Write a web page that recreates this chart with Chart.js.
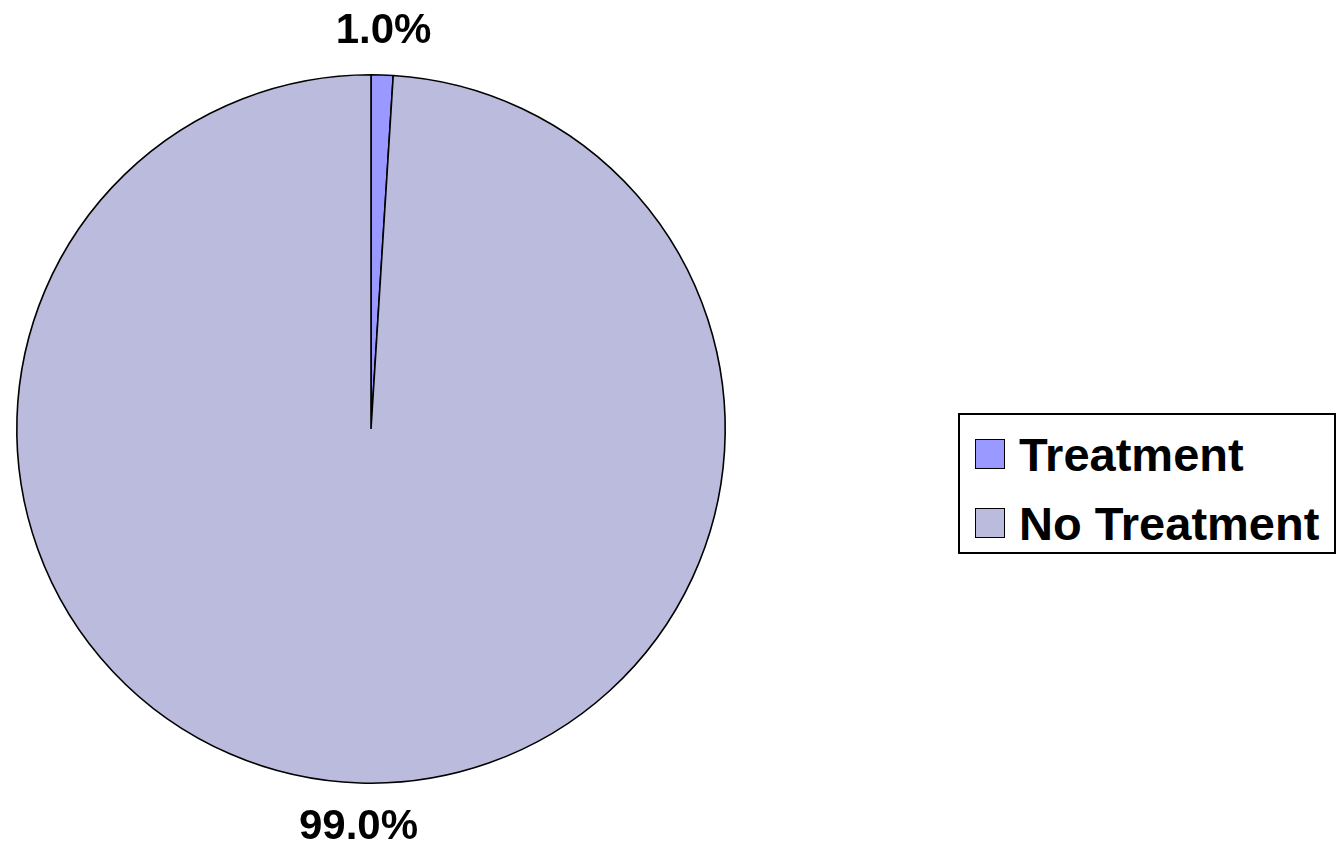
<!DOCTYPE html>
<html>
<head>
<meta charset="utf-8">
<script src="https://cdn.jsdelivr.net/npm/chart.js@4"></script>
<style>
  html, body { margin: 0; padding: 0; background: #fff; }
  #wrap { position: relative; width: 1344px; height: 850px; }
  #legend {
    position: absolute; left: 958px; top: 413px; width: 374px; height: 137px;
    border: 2px solid #000; background: #fff;
    font-family: "Liberation Sans", Arial, sans-serif; font-weight: bold; font-size: 47px;
  }
  .item { position: absolute; left: 15px; display: flex; align-items: center; height: 50px; }
  .swatch { width: 28px; height: 28px; border: 1.5px solid #000; margin-right: 14px; }
</style>
</head>
<body>
<div id="wrap">
  <canvas id="chart" width="1344" height="850"></canvas>
  <div id="legend"></div>
</div>
<script>
const labels = ['Treatment', 'No Treatment'];
const shares = [1.0, 99.0];
const colors = ['#9999FF', '#BBBBDD'];

// percentage labels just outside each slice
const pctLabels = {
    id: 'pctLabels',
    afterDatasetsDraw(chart) {
        const ctx = chart.ctx;
        const meta = chart.getDatasetMeta(0);
        ctx.save();
        ctx.font = 'bold 42px "Liberation Sans", Arial, sans-serif';
        ctx.fillStyle = '#000';
        ctx.textAlign = 'center';
        ctx.textBaseline = 'middle';
        meta.data.forEach((arc, i) => {
            const mid = (arc.startAngle + arc.endAngle) / 2;
            const r = arc.outerRadius + 44;
            ctx.fillText(shares[i].toFixed(1) + '%', arc.x + Math.cos(mid) * r, arc.y + Math.sin(mid) * r);
        });
        ctx.restore();
    }
};

let chart = new Chart(document.querySelector('#chart'), {
    type: 'pie',
    data: {
        labels: labels,
        datasets: [{
            data: shares,
            backgroundColor: colors,
            borderColor: '#000',
            borderWidth: 1.6,
            hoverOffset: 0
        }]
    },
    options: {
        responsive: false,
        animation: false,
        layout: { padding: { left: 16, top: 74, right: 618, bottom: 66 } },
        plugins: { legend: { display: false }, tooltip: { enabled: false } }
    },
    plugins: [pctLabels]
});

const legend = document.querySelector('#legend');
labels.forEach((name, i) => {
    const row = document.createElement('div');
    row.className = 'item';
    row.style.top = (14 + i * 69) + 'px';
    row.innerHTML = '<div class="swatch" style="background:' + colors[i] + '"></div><span>' + name + '</span>';
    legend.appendChild(row);
});
</script>
</body>
</html>
